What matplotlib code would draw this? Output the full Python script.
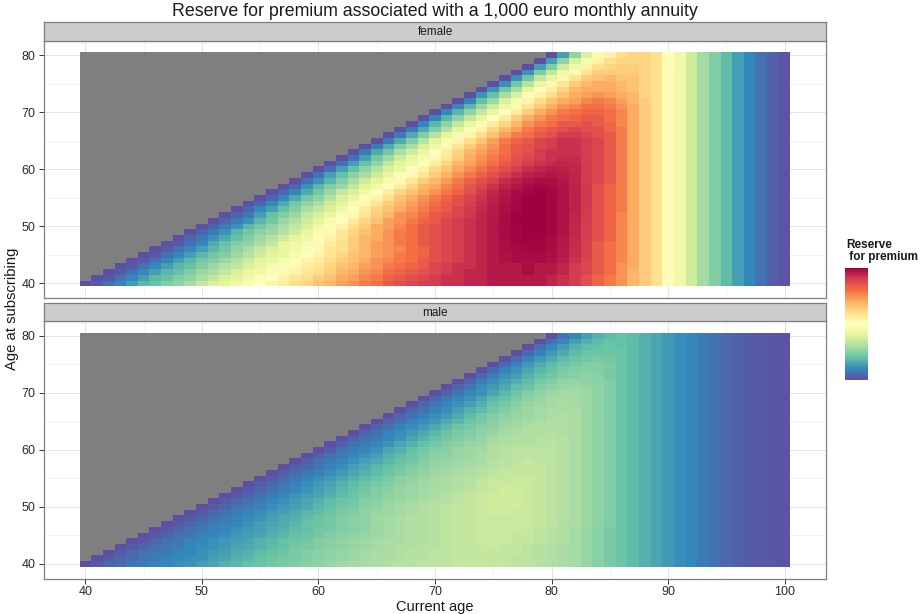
import numpy as np
import matplotlib
matplotlib.use("Agg")
import matplotlib.pyplot as plt
from matplotlib.colors import Normalize

plt.rcParams['font.family'] = ['Liberation Sans', 'DejaVu Sans']

title = "Reserve for premium associated with a 1,000 euro monthly annuity"
panels = ["female", "male"]
x_label = "Current age"
y_label = "Age at subscribing"
legend_title = "Reserve\n for premium"

current_age = list(range(40, 101))
subscribing_age = list(range(40, 81))
x_ticks = [40, 50, 60, 70, 80, 90, 100]
y_ticks = [40, 50, 60, 70, 80]

# reserve level (colour-scale units 0..50), one row per subscribing age 40..80,
# values for current age = subscribing age .. 88
female_rows = [
    [0,1,3,5,7,9,10,12,13,15,17,19,20,22,24,25,27,28,30,31,33,34,36,37,39,40,42,43,44,45,45,46,46,47,47,48,48,48,48,48,47,46,45,43,41,39,37,34,32],
    [0,1,3,5,7,9,10,12,13,15,17,19,20,22,24,25,27,29,30,32,33,35,36,38,39,41,42,43,44,45,46,46,47,47,48,48,48,48,48,47,46,45,43,41,39,37,34,32],
    [0,1,3,5,7,9,10,12,14,15,17,19,21,22,24,26,27,29,30,32,34,35,37,38,40,41,42,43,44,45,46,47,47,48,48,48,49,48,48,47,45,44,42,40,37,34,32],
    [0,1,3,5,7,9,10,12,14,16,17,19,21,23,24,26,28,29,31,33,34,36,37,39,40,41,42,44,45,46,46,47,48,48,48,49,48,48,47,45,44,42,40,37,35,32],
    [0,1,3,5,7,9,11,12,14,16,18,20,21,23,25,27,28,30,32,33,35,37,38,39,40,42,43,44,45,46,47,48,48.5,49,49,49,48.5,47.5,46,44.5,42,40,38,35,32],
    [0,1,3,5,7,9,11,12,14,16,18,20,21,23,25,27,29,31,33,34,36,37,39,40,41,43,44,45,46,47,48,48.6,49,49.2,49.2,48.7,47.7,46.2,44.6,42,40,38,35,32],
    [0,1,3,5,7,9,11,13,15,17,19,21,22,24,26,29,30,32,34,36,37,38,40,41,43,44,45,46,47,48,48.7,49.2,49.4,49.4,48.9,47.9,46.3,44.7,42,40,38,35,32],
    [0,1,3,5,8,10,12,13,15,17,20,22,23,26,28,30,32,34,36,37,39,40,42,43,44,45,46,47,48,48.8,49.3,49.6,49.6,49,48,46.4,44.8,42,40,38,35,32],
    [0,2,4,6,8,10,12,14,16,18,20,22,25,27,29,32,34,35,37,39,40,42,43,44,45,46,47,48,48.9,49.5,49.8,49.8,49.2,48.2,46.5,44.8,43,41,38,35,32],
    [0,2,4,6,9,11,13,14,16,18,21,23,26,29,31,33,35,37,39,40,42,43,44,45,46,47,48,49,49.6,49.9,49.9,49.3,48.3,46.7,44.9,43,41,38,35,32],
    [0,2,4,6,9,11,13,15,17,19,22,24,27,30,32,35,36,38,40,42,43,44,45,46,47,48.1,49,49.6,50,50,49.4,48.4,46.8,45,43,41,38,35,32],
    [0,2,4,6,9,11,14,16,18,20,23,25,28,31,33,36,37,39,41,42,44,45,46,47,48.1,49,49.7,50,50,49.5,48.5,46.9,45.1,43,41,38,35,32],
    [0,2,4,7,10,12,14,17,19,21,24,26,29,32,34,37,38,40,42,43,44,45.5,46.8,48,49,49.7,50,50,49.5,48.5,47,45.2,43,41,38,35,32],
    [0,2,5,7,10,12,15,17,19,22,25,28,31,33,35,37,39,41,42,44,45.3,46.6,47.8,48.8,49.6,50,50,49.6,48.6,47.1,45.3,43,41,39,35,32],
    [0,2,5,8,11,13,15,18,20,23,26,29,32,34,36,38,40,42,43,44.8,46.3,47.5,48.6,49.4,49.9,50,49.6,48.6,47.2,45.4,43,41,39,35,32],
    [0,2,5,8,11,13,16,19,21,24,27,30,33,35,37,39,41,43,44.3,45.8,47.1,48.3,49.2,49.7,49.9,49.5,48.6,47.2,45.4,43,41,39,35,32],
    [0,2,5,8,11,14,17,19,22,25,28,31,33,35,37,39,41,43,45.2,46.7,47.9,48.9,49.5,49.7,49.4,48.5,47.2,45.4,43,41,39,35,32],
    [0,2,6,9,12,14,17,20,22,25,28,31,34,35.5,38,40,42.5,44.3,45.8,47.1,48.2,49,49.3,49.1,48.4,47.1,45.4,43,41,39,35,32],
    [0,3,6,9,12,15,18,20,23,26,29,32,34,36.5,39,41.3,43.2,44.8,46.3,47.5,48.4,48.9,48.8,48.2,47,45.3,44,42,39,35,32],
    [0,3,7,10,13,15,18,21,24,26,29,32,34.5,37,39.3,41.3,43,44.8,46.2,47.3,48,48.2,47.8,46.9,45.2,44,42,39,35,32],
    [0,3,7,10,13,16,19,21,24,27,30.5,33,35.5,37.5,39.5,41.5,43.3,44.8,46.1,47,47.5,47.4,46.8,45.2,44,42,39,35,32],
    [0,3,7,10,13,17,20,22,25,28,31,34,36,38,40,42,43.5,44.8,45.8,46.6,46.9,46.6,45.1,44,42,39,35,32],
    [0,3,7,11,14,18,21,23,26,29,32,35,37,39,41,42.6,43.8,45,45.9,46.4,46.4,45,44,42,39,35,32],
    [0,4,8,11,15,18,21,25,28,31,34,36,38,40,42,43,45,46,46,46,45,44,42,39,35,32],
    [0,4,8,12,15,19,22,26,29,32,35,37,40,42,43,44,45,46,46,45,44,42,39,35,32],
    [0,4,8,12,16,20,23,27,30,33,36,39,41,42,44,45,46,46,45,44,42,39,35,32],
    [0,4,8,12,16,20,23,27,30,33,36,39,40,42,43,45,45,44,43,42,39,35,32],
    [0,4,8,12,16,20,24,27,31,34,36,39,41,42,43,44,43,43,41,39,35,32],
    [0,5,9,13,17,21,24,28,31,34,37,39,40,42,42,43,42,41,38,35,32],
    [0,5,9,13,17,21,25,28,32,35,37,39,40,41,42,42,40,38,35,32],
    [0,5,9,13,17,21,25,28,32,35,37,39,40,41,41,40,38,35,32],
    [0,5,9,14,18,22,26,29,32,35,37,38,40,40,39,37,35,32],
    [0,5,10,14,19,23,27,30,33,35,36,38,39,38,36,34,32],
    [0,6,10,15,19,24,27,30,33,35,36,37,36,35,34,31],
    [0,6,11,15,20,25,28,31,34,35,35,35,34,33,31],
    [0,6,11,16,21,26,29,32,34,35,35,34,33,31],
    [0,6,11,17,21,26,29,32,33,34,33,33,31],
    [0,6,12,17,22,26,29,32,32,32,32,31],
    [0,7,12,18,22,27,30,31,32,32,31],
    [0,7,13,19,23,27,30,31,31,31],
    [0,7,13,19,23,27,30,31,31],
]
# current age 89..100 (same for every subscribing age)
female_tail = [29.5,25.5,22,18,14.5,12,9.5,7,5,3,1.5,0.5]

male_rows = [
    [0,1,2,2.5,3.5,4,4.5,5,5.5,6,7,7.5,8.5,9,10,10.5,11,11.5,12,12.5,13,13.5,14,14.5,15,15,15.5,16,16,16.5,16.5,16.5,17,17,17,17,17,16.5,16.5,16,15.5,15,14.5,13.5,12.5,11.5,10.5,9.5,8.5],
    [0,1,2,2.5,3.5,4,4.5,5,5.5,6,7,7.5,8.5,9,10,10.5,11,11.5,12,12.5,13,13.5,14,14.5,15,15,15.5,16,16,16.5,16.5,17,17,17,17,17,16.5,16.5,16,15.5,15,14.5,13.5,12.5,11.5,10.5,9.5,8.5],
    [0,1,2,3,3.5,4,4.5,5,6,6.5,7,8,8.5,9.5,10,10.5,11.5,12,12.5,13,13.5,14,14.5,15,15,15.5,16,16,16.5,16.5,17,17,17,17,17,17,16.5,16,15.5,15,14.5,13.5,12.5,11.5,10.5,9.5,8.5],
    [0,1,2,3,3.5,4,5,5.5,6,6.5,7.5,8,8.5,9.5,10,11,11.5,12,12.5,13,13.5,14,14.5,15,15.5,15.5,16,16,16.5,17,17,17,17.5,17,17,16.5,16,15.5,15,14.5,13.5,12.5,11.5,10.5,9.5,8.5],
    [0,1,2,3,3.5,4.5,5,5.5,6.5,7,7.5,8.5,9,10,10.5,11,12,12.5,13,13.5,14,14.5,15,15,15.5,15.5,16,16.5,17,17,17.5,17.5,17.5,17,17,16.5,16,15.5,14.5,13.5,12.5,11.5,10.5,9.5,8.5],
    [0,1,2,3,3.5,4.5,5,5.5,6.5,7,7.5,8.5,9,10,10.5,11,12,12.5,13,13.5,14,14.5,15,15.5,15.5,16,16.5,17,17,17.5,17.5,17.5,17,17,16.5,16,15.5,14.5,13.5,12.5,11.5,10.5,9.5,8.5],
    [0,1,2,3,3.5,4.5,5,6,6.5,7,8,8.5,9.5,10,11,11.5,12,12.5,13,14,14.5,15,15.5,15.5,16,16.5,17,17,17.5,17.5,17.5,17.5,17,16.5,16,15.5,14.5,13.5,12.5,11.5,10.5,9.5,8.5],
    [0,1,2,3,4,4.5,5,6,7,7.5,8,9,10,10.5,11,12,12.5,13,14,14.5,15,15.5,15.5,16,16.5,17,17,17.5,17.5,17.5,17.5,17.5,17,16.5,15.5,15,14,13,12,10.5,9.5,8.5],
    [0,1,2,3,4,4.5,5.5,6,7,8,8.5,9.5,10.5,11,12,12.5,13,14,14.5,15,15.5,15.5,16,16.5,17,17,17.5,17.5,17.5,17.5,17.5,17,16.5,16,15,14,13,12,10.5,9.5,8.5],
    [0,1,2,3,4,4.5,5.5,6.5,7,8,9,9.5,10.5,11.5,12,13,13.5,14,14.5,15,15.5,16,16.5,17,17,17.5,18,18,17.5,17.5,17,16.5,16,15,14,13,12,10.5,9.5,8.5],
    [0,1,2,3,4,4.5,5.5,6.5,7,8,9,10,11,11.5,12.5,13,14,14.5,15,15.5,16,16.5,17,17,17.5,18,18,18,17.5,17,16.5,16,15,14,13,12,10.5,9.5,8.5],
    [0,1,2,3,4,5,5.5,6.5,7.5,8.5,9.5,10.5,11,12,12.5,13.5,14,14.5,15,15.5,16,16.5,17,17.5,18,18,18,17.5,17,16.5,16,15,14,13,12,10.5,9.5,8.5],
    [0,1,2,3,4,5,6,7,7.5,8.5,9.5,10.5,11.5,12,13,13.5,14,14.5,15,16,16.5,17,17.5,18,18,18,17.5,17,16.5,16,15,14,13,12,10.5,9.5,8.5],
    [0,1,2,3,4,5,6,7,8,9,10,11,12,12.5,13.5,14,14.5,15,15.5,16,16.5,17,17.5,18,18,17.5,17,16.5,16,15,14,13,12,10.5,9.5,8.5],
    [0,1.5,2.5,3.5,4.5,5.5,6.5,7.5,8.5,9.5,10.5,11.5,12,13,13.5,14,14.5,15,15.5,16,17,17.5,17.5,17.5,17.5,17,16.5,16,15,14,13,12,10.5,9.5,8.5],
    [0,1.5,2.5,3.5,4.5,5.5,6.5,7.5,8.5,9.5,10.5,11.5,12.5,13,14,14.5,15,15.5,16,16.5,17,17,17.5,17.5,17,16.5,16,15,14,13,12,10.5,9.5,8.5],
    [0,1.5,2.5,3.5,4.5,5.5,6.5,7.5,8.5,9.5,10.5,11.5,12.5,13,14,14.5,15,15.5,16,16.5,17,17,17,17,16.5,16,15,14,13,12,10.5,9.5,8.5],
    [0,1.5,2.5,3.5,4.5,5.5,7,8,9,10,11,12,12.5,13.5,14,14.5,15,15.5,16,16.5,17,17,17,16.5,16,15,14,13,12,10.5,9.5,8.5],
    [0,1.5,3,4,5,6,7,8,9,10,11,12,13,13.5,14,14.5,15,16,16.5,16.5,17,16.5,16.5,16,15,14,13,12,10.5,9.5,8.5],
    [0,1.5,3,4,5,6,7,8.5,9.5,10.5,11.5,12.5,13,13.5,14,15,15.5,16,16.5,16.5,16.5,16.5,16,15,14,13,12,10.5,9.5,8.5],
    [0,1.5,3,4,5,6,7.5,8.5,10,11,12,12.5,13.5,14,14.5,15.5,16,16.5,16.5,16.5,16.5,16,15,14,13,12,10.5,9.5,8.5],
    [0,1.5,3,4,5,6,7.5,8.5,10,11,12,12.5,13.5,14,15,15.5,16,16,16,16.5,16,15,14,13,12,10.5,9.5,8.5],
    [0,1.5,3,4,5,6,7.5,8.5,10,11,12,12.5,13.5,14.5,15,15.5,15.5,16,16,16,15,14,13,12,10.5,9.5,8.5],
    [0,2,3,4.5,5.5,6.5,8,9,10.5,11.5,12,13,13.5,14.5,15,15.5,15.5,16,15.5,15,14,13,12,10.5,9.5,8.5],
    [0,2,3,4.5,5.5,6.5,8,9,10.5,11.5,12.5,13,14,14.5,15,15.5,15.5,15.5,15,14,13,12,10.5,9.5,8.5],
    [0,2,3,4.5,5.5,6.5,8,9,10.5,11.5,12.5,13.5,14,14.5,15,15.5,15.5,15,14,13,12,10.5,9.5,8.5],
    [0,2,3,4.5,5.5,6.5,8,9.5,11,12,13,13.5,14,14.5,15,15.5,15,14,13,12,10.5,9.5,8.5],
    [0,2,3,4.5,5.5,7,8.5,9.5,11,12,13,14,14.5,15,15,15,14,13,12,10.5,9.5,8.5],
    [0,2,3.5,5,6,7,8.5,10,11.5,12.5,13.5,14,14.5,15,14.5,14,13,12,10.5,9.5,8.5],
    [0,2,3.5,5,6,7.5,9,10,11.5,12.5,13.5,14.5,14.5,14.5,14,13,12,10.5,9.5,8.5],
    [0,2,3.5,5,6,7.5,9,10.5,12,13,14,14.5,14.5,14,13,12,10.5,9.5,8.5],
    [0,2,3.5,5.5,6.5,8,9.5,10.5,12,13,13.5,14,13.5,13,12,10.5,9.5,8.5],
    [0,2,4,5.5,7,8.5,9.5,11,12,13,13.5,13,12.5,12,10.5,9.5,8.5],
    [0,2.5,4,6,7,8.5,10,11,12,12.5,13,12.5,11.5,10.5,9.5,8.5],
    [0,2.5,4.5,6,7.5,9,10,11.5,12,12.5,12,11.5,10.5,9.5,8.5],
    [0,2.5,4.5,6.5,8,9.5,10.5,11.5,12,12,11.5,10.5,9.5,8.5],
    [0,2.5,4.5,6.5,8,9.5,10.5,11,11.5,11,10.5,9.5,8.5],
    [0,2.5,4.5,6.5,8,9.5,10.5,10.5,10.5,10.5,9.5,8.5],
    [0,3,5,7,8.5,9.5,10,10.5,10,9.5,8.5],
    [0,3,5,7,8.5,9.5,10,10,9.5,8.5],
    [0,3,5,7,8.5,9.5,10,9.5,8.5],
]
male_tail = [7.5,6.5,5.5,5,4,3,2.2,1.6,1.2,0.9,0.6,0.4]


def build(rows, tail):
    z = np.full((len(subscribing_age), len(current_age)), np.nan)
    for i, s in enumerate(subscribing_age):
        vals = list(rows[i]) + list(tail)
        start = current_age.index(s)
        n = len(current_age) - start
        if len(vals) != n:
            vals = (vals + [vals[-1]] * n)[:n]
        z[i, start:] = vals
    return np.ma.masked_invalid(z)


data = {"female": build(female_rows, female_tail),
        "male": build(male_rows, male_tail)}

W, H = 922, 614
fig = plt.figure(figsize=(W / 100, H / 100), dpi=100)

cmap = plt.get_cmap("Spectral_r").copy()
cmap.set_bad("#7F7F7F")
norm = Normalize(0, 50)

x_edges = np.arange(current_age[0] - 0.5, current_age[-1] + 1.0, 1.0)
y_edges = np.arange(subscribing_age[0] - 0.5, subscribing_age[-1] + 1.0, 1.0)

left, right = 44, 826
panel_px = {"female": (40.7, 298.0), "male": (321.3, 578.5)}
strip_px = {"female": (22.0, 40.7), "male": (303.0, 321.3)}


def px_rect(x0, x1, y0, y1):
    return [x0 / W, 1 - y1 / H, (x1 - x0) / W, (y1 - y0) / H]


border = "#7F7F7F"
mesh = None
for name in panels:
    ax = fig.add_axes(px_rect(left, right, *panel_px[name]))
    ax.set_facecolor("white")
    mesh = ax.pcolormesh(x_edges, y_edges, data[name], cmap=cmap, norm=norm,
                         shading="flat", antialiased=False, linewidth=0, zorder=2)
    ax.set_xlim(36.45, 103.55)
    ax.set_ylim(37.45, 82.55)
    ax.set_xticks(x_ticks)
    ax.set_yticks(y_ticks)
    ax.set_xticks([45, 55, 65, 75, 85, 95], minor=True)
    ax.set_yticks([45, 55, 65, 75], minor=True)
    ax.grid(which="major", color="#E3E3E3", linewidth=0.7, zorder=0)
    ax.grid(which="minor", color="#F3F3F3", linewidth=0.6, zorder=0)
    ax.set_axisbelow(True)
    for sp in ax.spines.values():
        sp.set_color(border)
        sp.set_linewidth(0.9)
    ax.tick_params(axis="both", which="minor", length=0)
    ax.tick_params(axis="y", which="major", length=3.6, width=0.7, color="#333333",
                   labelsize=9, labelcolor="#2B2B2B", pad=2.5)
    if name == "male":
        ax.tick_params(axis="x", which="major", length=3.6, width=0.7, color="#333333",
                       labelsize=9, labelcolor="#2B2B2B", pad=2.0)
    else:
        ax.tick_params(axis="x", which="major", length=0, labelbottom=False)

    sax = fig.add_axes(px_rect(left, right, *strip_px[name]))
    sax.set_facecolor("#CCCCCC")
    sax.set_xticks([])
    sax.set_yticks([])
    for sp in sax.spines.values():
        sp.set_color(border)
        sp.set_linewidth(0.9)
    sax.text(0.5, 0.48, name, ha="center", va="center", fontsize=8.5,
             color="#1A1A1A", transform=sax.transAxes)

# colour bar
cax = fig.add_axes(px_rect(845, 868, 267.7, 380))
cb = fig.colorbar(mesh, cax=cax)
cb.set_ticks([])
cb.outline.set_visible(False)

fig.text(846 / W, 1 - 238.5 / H, legend_title, ha="left", va="top", fontsize=8.5,
         fontweight="bold", color="#1A1A1A", linespacing=1.0)

fig.text(435 / W, 1 - 12 / H, title, ha="center", va="center", fontsize=12.8,
         color="#1A1A1A")
fig.text(435 / W, 1 - 606.5 / H, x_label, ha="center", va="center", fontsize=10.5,
         color="#1A1A1A")
fig.text(12 / W, 1 - 309 / H, y_label, ha="center", va="center", rotation=90,
         fontsize=10.7, color="#1A1A1A")

fig.savefig("out.png", dpi=100)
